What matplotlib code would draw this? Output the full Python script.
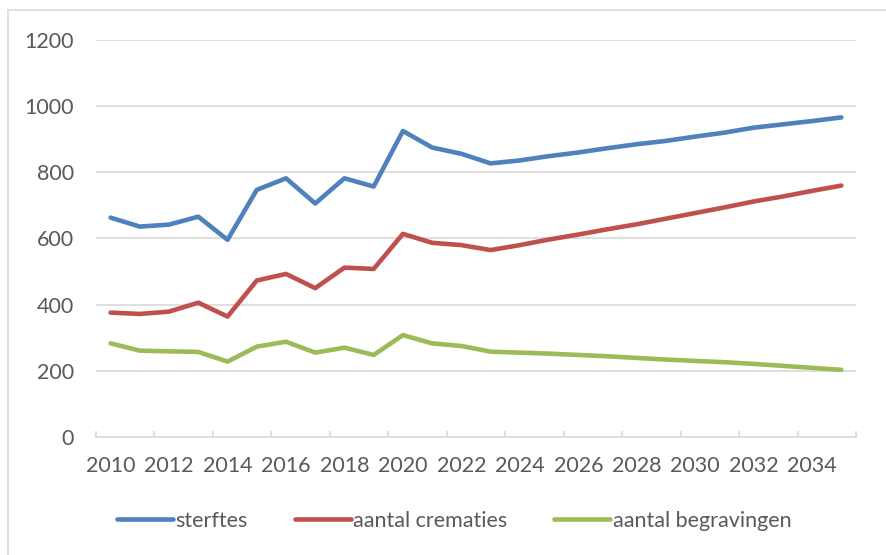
import numpy as np
import matplotlib.pyplot as plt
from matplotlib.lines import Line2D

years = list(range(2010, 2036))

sterftes = [663, 636, 642, 666, 596, 747, 782, 706, 782, 757, 925, 875, 856,
            827, 836, 849, 860, 873, 885, 895, 908, 920, 935, 945, 955, 966]
crematies = [376, 372, 379, 406, 364, 473, 493, 450, 512, 508, 614, 587, 580,
             565, 580, 597, 612, 628, 643, 660, 677, 694, 712, 727, 744, 760]
begravingen = [283, 261, 259, 257, 228, 273, 288, 255, 270, 248, 308, 283, 275,
               258, 255, 252, 248, 244, 239, 234, 230, 226, 221, 215, 209, 203]

labels = ['sterftes', 'aantal crematies', 'aantal begravingen']
colors = ['#4f81bd', '#c0504d', '#9bbb59']

plt.rcParams['font.family'] = ['Lato', 'DejaVu Sans']
txt = '#595959'
grid = '#d9d9d9'
fs = 15.5

fig = plt.figure(figsize=(8.86, 5.55), dpi=100)
ax = fig.add_axes([96 / 886, 1 - 437 / 555, (856 - 96) / 886, (437 - 40) / 555])

x = np.arange(len(years))
for vals, lab, col in zip([sterftes, crematies, begravingen], labels, colors):
    ax.plot(x, vals, color=col, lw=3.3, label=lab, solid_capstyle='round',
            solid_joinstyle='round')

ax.set_xlim(-0.5, len(years) - 0.5)
ax.set_ylim(0, 1200)
ax.set_yticks(range(0, 1201, 200))
ax.yaxis.grid(True, color=grid, lw=1.2)
ax.set_axisbelow(True)

# tick marks between categories, labels every other year
ax.set_xticks(np.arange(-0.5, len(years), 2))
ax.set_xticklabels([])
ax.set_xticks(x[::2], minor=True)
ax.set_xticklabels([str(y) for y in years[::2]], minor=True)
ax.tick_params(axis='x', which='major', direction='in', length=4, color=grid, width=1.2)
ax.tick_params(axis='x', which='minor', length=0, pad=14, labelsize=fs, labelcolor=txt)
ax.tick_params(axis='y', length=0, pad=16, labelsize=fs, labelcolor=txt)

for s in ['top', 'right', 'left']:
    ax.spines[s].set_visible(False)
ax.spines['bottom'].set_color(grid)
ax.spines['bottom'].set_linewidth(1.2)

leg = fig.legend(loc='center', bbox_to_anchor=(454 / 886, 1 - 521 / 555), ncol=3,
                 frameon=False, fontsize=fs, handlelength=2.6,
                 handletextpad=0.1, columnspacing=2.2)
for t in leg.get_texts():
    t.set_color(txt)

# chart area border
fig.add_artist(Line2D([8 / 886, 1], [1 - 10 / 555] * 2, color=grid, lw=1.2))
fig.add_artist(Line2D([8 / 886] * 2, [0, 1 - 10 / 555], color=grid, lw=1.2))

fig.savefig('out.png', dpi=100)
